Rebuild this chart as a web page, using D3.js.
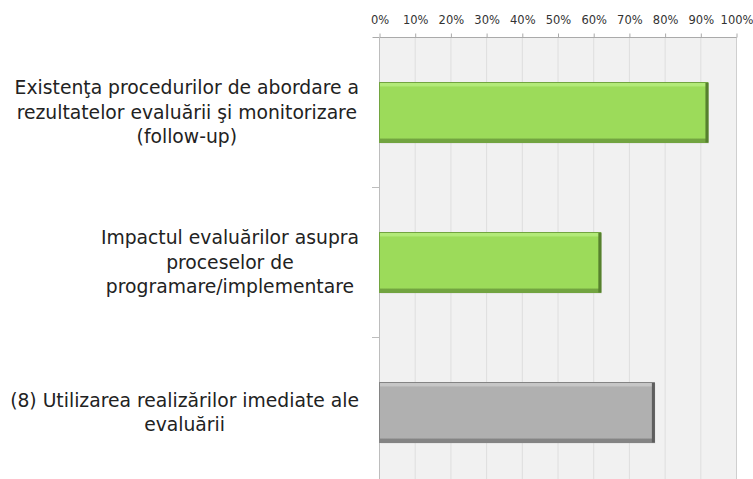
<!DOCTYPE html>
<html>
<head>
<meta charset="utf-8">
<script src="https://cdn.jsdelivr.net/npm/d3@7"></script>
<style>
  body { margin: 0; background: #fff; }
  svg { display: block; }
</style>
</head>
<body>
<div id="chart"></div>
<script>
const categories = [
    ["Existenţa procedurilor de abordare a", "rezultatelor evaluării şi monitorizare", "(follow-up)"],
    ["Impactul evaluărilor asupra", "proceselor de", "programare/implementare"],
    ["(8) Utilizarea realizărilor imediate ale", "evaluării"]
];
const values = [0.92, 0.62, 0.77];
const barKinds = ["green", "green", "gray"];
const ticks = [0, 0.1, 0.2, 0.3, 0.4, 0.5, 0.6, 0.7, 0.8, 0.9, 1];

const width = 753;
const height = 479;
const margin = {top: 37, right: 17, bottom: -8, left: 379};
const font = "'DejaVu Sans', sans-serif";

const svg = d3.select("#chart")
    .append("svg")
    .attr("width", width)
    .attr("height", height);

const x = d3.scaleLinear()
    .domain([0, 1])
    .range([margin.left, width - margin.right]);

const y = d3.scaleBand()
    .domain(d3.range(categories.length))
    .range([margin.top, height - margin.bottom])
    .paddingInner(0.6)
    .paddingOuter(0.3);

// gradients for the bevelled bars
const defs = svg.append("defs");
const fills = {
    green: {light: "#b2ea78", mid: "#9cdb5a", dark: "#72a440", edge: "#56802e"},
    gray: {light: "#c6c6c6", mid: "#b0b0b0", dark: "#848484", edge: "#5e5e5e"}
};
Object.entries(fills).forEach(([k, c]) => {
    const g = defs.append("linearGradient")
        .attr("id", "grad-" + k)
        .attr("x1", 0).attr("x2", 0).attr("y1", 0).attr("y2", 1);
    g.append("stop").attr("offset", "0%").attr("stop-color", c.light);
    g.append("stop").attr("offset", "5%").attr("stop-color", c.light);
    g.append("stop").attr("offset", "8%").attr("stop-color", c.mid);
    g.append("stop").attr("offset", "92%").attr("stop-color", c.mid);
    g.append("stop").attr("offset", "95%").attr("stop-color", c.dark);
    g.append("stop").attr("offset", "100%").attr("stop-color", c.dark);
});

// plot background
svg.append("rect")
    .attr("x", x(0))
    .attr("y", margin.top)
    .attr("width", x(1) - x(0))
    .attr("height", height - margin.top)
    .attr("fill", "#f1f1f1");

// vertical gridlines
svg.append("g")
    .selectAll("line")
    .data(ticks.slice(1, -1))
    .join("line")
    .attr("x1", d => x(d) + 0.5)
    .attr("x2", d => x(d) + 0.5)
    .attr("y1", margin.top)
    .attr("y2", height)
    .attr("stroke", "#dedede");

// right border
svg.append("line")
    .attr("x1", x(1) + 0.5).attr("x2", x(1) + 0.5)
    .attr("y1", margin.top).attr("y2", height)
    .attr("stroke", "#cfcfcf");

// top axis
const xAxis = svg.append("g")
    .attr("transform", `translate(0.5,${margin.top + 0.5})`)
    .call(d3.axisTop(x).tickValues(ticks).tickFormat(d3.format(".0%")).tickSize(4).tickPadding(10));
xAxis.select(".domain").attr("stroke", "#aaa").attr("d", `M${x(0) - 7},0H${x(1)}`);
xAxis.selectAll(".tick line").attr("stroke", "#aaa");
xAxis.selectAll(".tick text")
    .attr("fill", "#333")
    .style("font-family", font)
    .style("font-size", "11.5px");

// left axis line with category separators
svg.append("line")
    .attr("x1", x(0) + 0.5).attr("x2", x(0) + 0.5)
    .attr("y1", margin.top).attr("y2", height)
    .attr("stroke", "#bdbdbd");
const step = y.step();
svg.append("g")
    .selectAll("line")
    .data(d3.range(1, categories.length))
    .join("line")
    .attr("x1", x(0) - 7)
    .attr("x2", x(0))
    .attr("y1", d => y(d) - y.paddingInner() * step / 2 + 0.5)
    .attr("y2", d => y(d) - y.paddingInner() * step / 2 + 0.5)
    .attr("stroke", "#bdbdbd");

// bars
const bars = svg.append("g")
    .selectAll("g")
    .data(values)
    .join("g");

bars.append("rect")
    .attr("x", x(0) + 1.5)
    .attr("y", (d, i) => y(i) + 1.5)
    .attr("width", d => x(d) - x(0))
    .attr("height", y.bandwidth())
    .attr("fill", "rgba(0,0,0,0.08)");

bars.append("rect")
    .attr("x", x(0) + 0.5)
    .attr("y", (d, i) => y(i) + 0.5)
    .attr("width", d => x(d) - x(0))
    .attr("height", y.bandwidth())
    .attr("fill", (d, i) => `url(#grad-${barKinds[i]})`)
    .attr("stroke", (d, i) => fills[barKinds[i]].dark)
    .attr("stroke-width", 1);

// darker right edge
bars.append("rect")
    .attr("x", d => x(d) - 2)
    .attr("y", (d, i) => y(i) + 1)
    .attr("width", 3)
    .attr("height", y.bandwidth() - 0.5)
    .attr("fill", (d, i) => fills[barKinds[i]].edge);

// category labels, sized so the widest line spans the label area
const labelRight = 359;
const labelLeft = 10;
const labels = svg.append("g")
    .style("font-family", font)
    .attr("fill", "#222");

const probe = labels.append("text").style("font-size", "18px");
let widest = 0;
categories.flat().forEach(t => {
    probe.text(t);
    widest = Math.max(widest, probe.node().getComputedTextLength());
});
probe.remove();
const fontSize = 18 * (labelRight - labelLeft) / widest;
const lineH = 24.5;
labels.style("font-size", fontSize + "px");

categories.forEach((lines, i) => {
    const g = labels.append("g");
    const cy = y(i) + y.bandwidth() / 2;
    const texts = g.selectAll("text")
        .data(lines)
        .join("text")
        .attr("text-anchor", "middle")
        .attr("y", (d, j) => cy + (j - (lines.length - 1) / 2) * lineH + fontSize * 0.36)
        .text(d => d);
    let maxW = 0;
    texts.each(function() { maxW = Math.max(maxW, this.getComputedTextLength()); });
    texts.attr("x", labelRight - maxW / 2);
});
</script>
</body>
</html>
